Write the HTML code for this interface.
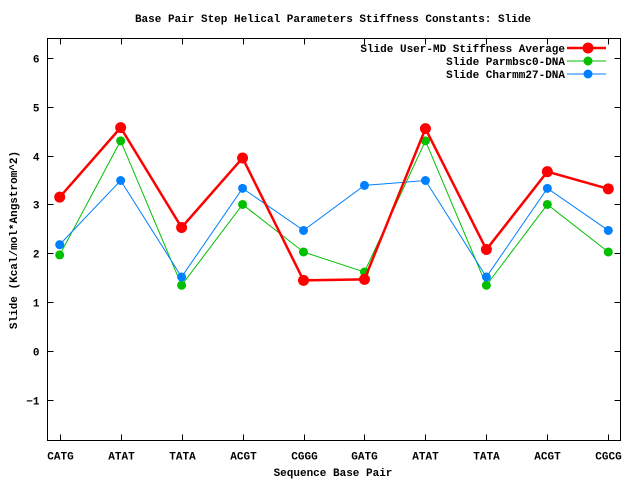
<!DOCTYPE html>
<html><head><meta charset="utf-8"><style>
body{margin:0;background:#fff}
svg text{font-family:"Liberation Mono",monospace;font-weight:bold;font-size:11px;fill:#000}
</style></head><body>
<svg width="640" height="480" xmlns="http://www.w3.org/2000/svg">
<text x="333" y="22" text-anchor="middle">Base Pair Step Helical Parameters Stiffness Constants: Slide</text>
<g id="axes"></g>
<g id="series"></g>
<g id="legend"></g>
</svg>
<script>
const categories=["CATG","ATAT","TATA","ACGT","CGGG","GATG","ATAT","TATA","ACGT","CGCG"];
const userMD=[3.15,4.57,2.53,3.95,1.45,1.47,4.55,2.08,3.67,3.32];
const parmbsc0=[1.97,4.30,1.35,3.00,2.03,1.62,4.30,1.35,3.00,2.03];
const charmm27=[2.18,3.49,1.52,3.33,2.47,3.39,3.49,1.52,3.33,2.47];
const yTicks=[-1,0,1,2,3,4,5,6];
const seriesNames=["Slide User-MD Stiffness Average","Slide Parmbsc0-DNA","Slide Charmm27-DNA"];

const L=47.5,R=620.5,T=38.5,B=440.5;
const xMin=-0.2,xMax=9.2,yMin=-1.82,yMax=6.39;
const xs=i=>L+(i-xMin)/(xMax-xMin)*(R-L);
const ys=v=>B-(v-yMin)/(yMax-yMin)*(B-T);
const NS="http://www.w3.org/2000/svg";
function mk(tag,attrs,parent){const e=document.createElementNS(NS,tag);for(const k in attrs)e.setAttribute(k,attrs[k]);parent.appendChild(e);return e;}
const ax=document.getElementById('axes');
let f=mk('rect',{x:L,y:T,width:R-L,height:B-T,fill:'none',stroke:'#000','stroke-width':1},ax);

yTicks.forEach(v=>{const y=Math.round(ys(v))+0.5;
 mk('line',{x1:L,x2:L+6,y1:y,y2:y,stroke:'#000'},ax);mk('line',{x1:R,x2:R-6,y1:y,y2:y,stroke:'#000'},ax);
 const t=mk('text',{x:L-8,y:y+4,'text-anchor':'end'},ax);t.textContent=v<0?'\u2212'+(-v):v;
 });
categories.forEach((c,i)=>{const x=Math.round(xs(i))+0.5;
 mk('line',{x1:x,x2:x,y1:B,y2:B-6,stroke:'#000'},ax);mk('line',{x1:x,x2:x,y1:T,y2:T+6,stroke:'#000'},ax);
 const t=mk('text',{x:x,y:B+19,'text-anchor':'middle'},ax);t.textContent=c;
 });
let xt=mk('text',{x:333,y:476,'text-anchor':'middle'},ax);xt.textContent='Sequence Base Pair';

let yt=mk('text',{x:17,y:240,'text-anchor':'middle',transform:'rotate(-90 17 240)'},ax);yt.textContent='Slide (Kcal/mol*Angstrom^2)';


const sg=document.getElementById('series');
const defs=[[parmbsc0,'#00c000',1,4.5,'series-parmbsc0'],[charmm27,'#0080ff',1,4.5,'series-charmm27'],[userMD,'#ff0000',2.5,5.5,'series-user-md']];
defs.forEach(([d,col,w,r,name])=>{const g=mk('g',{},sg);
 const p=mk('polyline',{points:d.map((v,i)=>xs(i)+','+ys(v)).join(' '),fill:'none',stroke:col,'stroke-width':w},g);
 
 d.forEach((v,i)=>{const c=mk('circle',{cx:xs(i),cy:ys(v),r:r,fill:col},g);});});

const lg=document.getElementById('legend');
const lcol=['#ff0000','#00c000','#0080ff'],lw=[2.5,1,1],lr=[5.5,4.5,4.5];
seriesNames.forEach((n,k)=>{const y=48+k*13;const g=mk('g',{},lg);
 
 const t=mk('text',{x:565,y:y+4,'text-anchor':'end'},g);t.textContent=n;
 mk('line',{x1:567,x2:606,y1:y,y2:y,stroke:lcol[k],'stroke-width':lw[k]},g);
 mk('circle',{cx:588,cy:y,r:lr[k],fill:lcol[k]},g);});
</script>
</body></html>
